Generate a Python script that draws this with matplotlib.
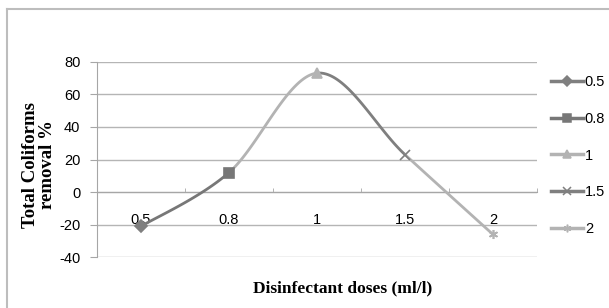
import numpy as np
import matplotlib
matplotlib.use('Agg')
from matplotlib import pyplot as plt
from matplotlib.lines import Line2D

plt.rcParams['axes.unicode_minus'] = False

# category labels and removal values
doses = ['0.5', '0.8', '1', '1.5', '2']
removal = [-21, 12, 73, 23, -26]
point_colors = ['#7f7f7f', '#777777', '#b3b3b3', '#7f7f7f', '#b3b3b3']
point_markers = ['D', 's', '^', 'x', (6, 2, 0)]
yticks = [-40, -20, 0, 20, 40, 60, 80]


def smooth_segment(x, y, i, n=40):
    # excel style smoothed line: cubic bezier between point i and i+1
    p0 = np.array([x[max(i - 1, 0)], y[max(i - 1, 0)]], float)
    p1 = np.array([x[i], y[i]], float)
    p2 = np.array([x[i + 1], y[i + 1]], float)
    p3 = np.array([x[min(i + 2, len(x) - 1)], y[min(i + 2, len(y) - 1)]], float)
    c1 = p1 + (p2 - p0) / 6
    c2 = p2 - (p3 - p1) / 6
    t = np.linspace(0, 1, n)[:, None]
    pts = ((1 - t) ** 3) * p1 + 3 * ((1 - t) ** 2) * t * c1 + 3 * (1 - t) * t ** 2 * c2 + t ** 3 * p2
    return pts[:, 0], pts[:, 1]


fig = plt.figure(figsize=(6.09, 3.08), dpi=100)
ax = fig.add_axes([97 / 609, 1 - 257.3 / 308, 440 / 609, 195.6 / 308])

xs = np.arange(len(doses))
for i in range(len(doses) - 1):
    sx, sy = smooth_segment(xs, removal, i)
    ax.plot(sx, sy, color=point_colors[i + 1], lw=2.0, solid_capstyle='round', zorder=3)
for i in range(len(doses)):
    ax.plot(xs[i], removal[i], linestyle='none', marker=point_markers[i], ms=6.5,
            color=point_colors[i], mec=point_colors[i], mew=1.2, zorder=4)

ax.set_xlim(-0.5, len(doses) - 0.5)
ax.set_ylim(-40, 80)
ax.set_yticks(yticks)
ax.yaxis.grid(True, color='#b5b5b5', lw=1.0)
ax.set_axisbelow(True)

for s in ['top', 'right']:
    ax.spines[s].set_visible(False)
ax.spines['left'].set_color('#a6a6a6')
ax.spines['bottom'].set_position(('data', 0))
ax.spines['bottom'].set_color('#a6a6a6')

ax.set_xticks(xs)
ax.set_xticklabels(doses)
ax.set_xticks(np.arange(len(doses) + 1) - 0.5, minor=True)
ax.tick_params(axis='x', which='major', length=0, pad=15)
ax.tick_params(axis='x', which='minor', direction='in', length=3, color='#a6a6a6')
ax.tick_params(axis='y', length=5, color='#a6a6a6', pad=7)
for lab in ax.get_xticklabels() + ax.get_yticklabels():
    lab.set_fontfamily('Liberation Sans')
    lab.set_fontsize(10.5)

fig.text(39 / 609, 0.465, 'Total Coliforms\nremoval %', rotation=90, ha='center', va='center',
         family='Liberation Serif', weight='bold', fontsize=13.5, linespacing=1.0)
fig.text(343 / 609, 1 - 288 / 308, 'Disinfectant doses (ml/l)', ha='center', va='center',
         family='Liberation Serif', weight='bold', fontsize=12.5)

handles = [Line2D([], [], color=point_colors[i], lw=2.5, marker=point_markers[i], ms=5.5,
                  mec=point_colors[i], mew=1.1) for i in range(len(doses))]
fig.legend(handles, doses, loc='upper left', bbox_to_anchor=(544 / 609, 1 - 68 / 308),
           frameon=False, handlelength=2.2, handletextpad=0.1, labelspacing=1.55,
           prop={'family': 'Liberation Sans', 'size': 10.5}, borderpad=0)

# outer chart border (only left and top edges fall inside the image)
fig.add_artist(Line2D([6.5 / 609, 6.5 / 609], [0, 1 - 8.5 / 308], color='#bdbdbd', lw=1.5))
fig.add_artist(Line2D([6.5 / 609, 1], [1 - 8.5 / 308, 1 - 8.5 / 308], color='#bdbdbd', lw=1.5))

fig.savefig('out.png', dpi=100)
